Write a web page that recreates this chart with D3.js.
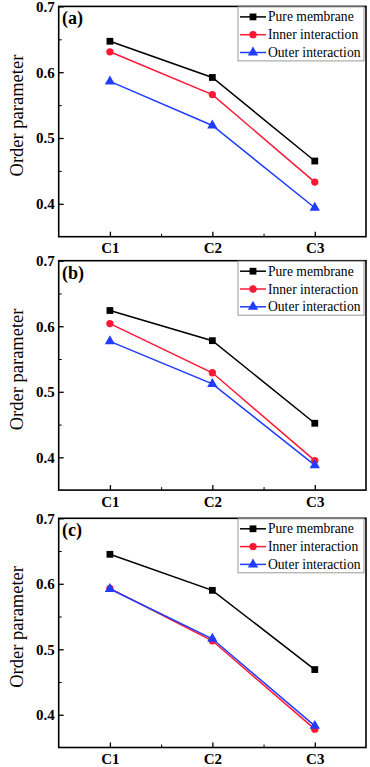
<html>
<script src="https://d3js.org/d3.v7.min.js"></script>
<body style="margin:0;background:#fff">
<svg id="fig" width=370 height=767></svg>
</body>
<script>

// categories + tick labels
var cats = ["C1", "C2", "C3"];
var yTicks = [0.4, 0.5, 0.6, 0.7];
var yMinor = [0.45, 0.55, 0.65];
var seriesNames = ["Pure membrane", "Inner interaction", "Outer interaction"];

// panel (a)
var pureA = [0.647, 0.592, 0.465];
var innerA = [0.631, 0.566, 0.433];
var outerA = [0.586, 0.519, 0.394];
// panel (b)
var pureB = [0.624, 0.578, 0.452];
var innerB = [0.604, 0.529, 0.395];
var outerB = [0.577, 0.512, 0.388];
// panel (c)
var pureC = [0.645, 0.590, 0.469];
var innerC = [0.593, 0.513, 0.378];
var outerC = [0.592, 0.516, 0.383];

var colors = ["#000000", "#ff1836", "#1f3cff"];
var shapes = [d3.symbolSquare, d3.symbolCircle, d3.symbolTriangle];
var sizes = [46, 42, 46];
var font = "Liberation Serif, Times New Roman, Times, DejaVu Serif, serif";

var svg = d3.select("#fig").style("font-family", font);

function panel(top, bottom, label, data) {
  var left = 58.7, right = 366;
  var x = d3.scaleLinear().domain([0.5, 3.5]).range([left, right]);
  var y = d3.scaleLinear().domain([0.35, 0.7]).range([bottom, top]);
  var g = svg.append("g");

  // y axis, ticks pointing in
  var ya = g.append("g").attr("transform", "translate(" + left + ",0)")
    .call(d3.axisLeft(y).tickValues(yTicks).tickSize(-5).tickPadding(4).tickFormat(d3.format(".1f")));
  ya.select(".domain").remove();
  ya.selectAll("text").style("font-family", font).attr("font-weight", "bold").attr("font-size", 15).attr("fill", "#000");
  ya.selectAll("line").attr("stroke-width", 1.3);
  var ym = g.append("g").attr("transform", "translate(" + left + ",0)")
    .call(d3.axisLeft(y).tickValues(yMinor).tickSize(-3).tickFormat(""));
  ym.select(".domain").remove();

  // x axis
  var xa = g.append("g").attr("transform", "translate(0," + bottom + ")")
    .call(d3.axisBottom(x).tickValues([1, 2, 3]).tickSize(-5).tickPadding(6).tickFormat(function(d) { return cats[d - 1]; }));
  xa.select(".domain").remove();
  xa.selectAll("text").style("font-family", font).attr("font-weight", "bold").attr("font-size", 15).attr("fill", "#000");
  xa.selectAll("line").attr("stroke-width", 1.3);
  var xm = g.append("g").attr("transform", "translate(0," + bottom + ")")
    .call(d3.axisBottom(x).tickValues([1.5, 2.5]).tickSize(-3).tickFormat(""));
  xm.select(".domain").remove();

  // frame
  g.append("rect").attr("x", left).attr("y", top)
    .attr("width", right - left).attr("height", bottom - top)
    .attr("fill", "none").attr("stroke", "#000").attr("stroke-width", 1.6);

  // y title
  g.append("text")
    .attr("transform", "translate(17," + ((top + bottom) / 2 - 6) + ") rotate(-90)")
    .attr("text-anchor", "middle").attr("dominant-baseline", "central")
    .style("font-family", font).attr("font-size", 18.5)
    .text("Order parameter");

  // panel label
  g.append("text").attr("x", 62).attr("y", top + 18)
    .style("font-family", font).attr("font-weight", "bold").attr("font-size", 18)
    .text(label);

  var line = d3.line().x(function(d, i) { return x(i + 1); }).y(function(d) { return y(d); });
  data.forEach(function(vals, s) {
    g.append("path").datum(vals).attr("d", line)
      .attr("fill", "none").attr("stroke", colors[s]).attr("stroke-width", 1.5);
    g.selectAll(".m" + s).data(vals).enter().append("path")
      .attr("transform", function(d, i) { return "translate(" + x(i + 1) + "," + y(d) + ")"; })
      .attr("d", d3.symbol().type(shapes[s]).size(sizes[s]))
      .attr("fill", colors[s]);
  });

  // legend
  var lg = g.append("g");
  lg.append("rect").attr("x", 238).attr("y", top + 0.5)
    .attr("width", 126).attr("height", 54)
    .attr("fill", "#fff").attr("stroke", "#999").attr("stroke-width", 1);
  seriesNames.forEach(function(n, s) {
    var ly = top + 10.5 + s * 17.8;
    lg.append("line").attr("x1", 240).attr("x2", 266).attr("y1", ly).attr("y2", ly)
      .attr("stroke", colors[s]).attr("stroke-width", 1.5);
    lg.append("path").attr("transform", "translate(253," + ly + ")")
      .attr("d", d3.symbol().type(shapes[s]).size(sizes[s])).attr("fill", colors[s]);
    lg.append("text").attr("x", 268).attr("y", ly).attr("dominant-baseline", "central")
      .style("font-family", font).attr("font-size", 13.6).text(n);
  });
}

panel(6.4, 236.7, "(a)", [pureA, innerA, outerA]);
panel(260.7, 490.1, "(b)", [pureB, innerB, outerB]);
panel(518.3, 747.5, "(c)", [pureC, innerC, outerC]);

</script>
</html>
